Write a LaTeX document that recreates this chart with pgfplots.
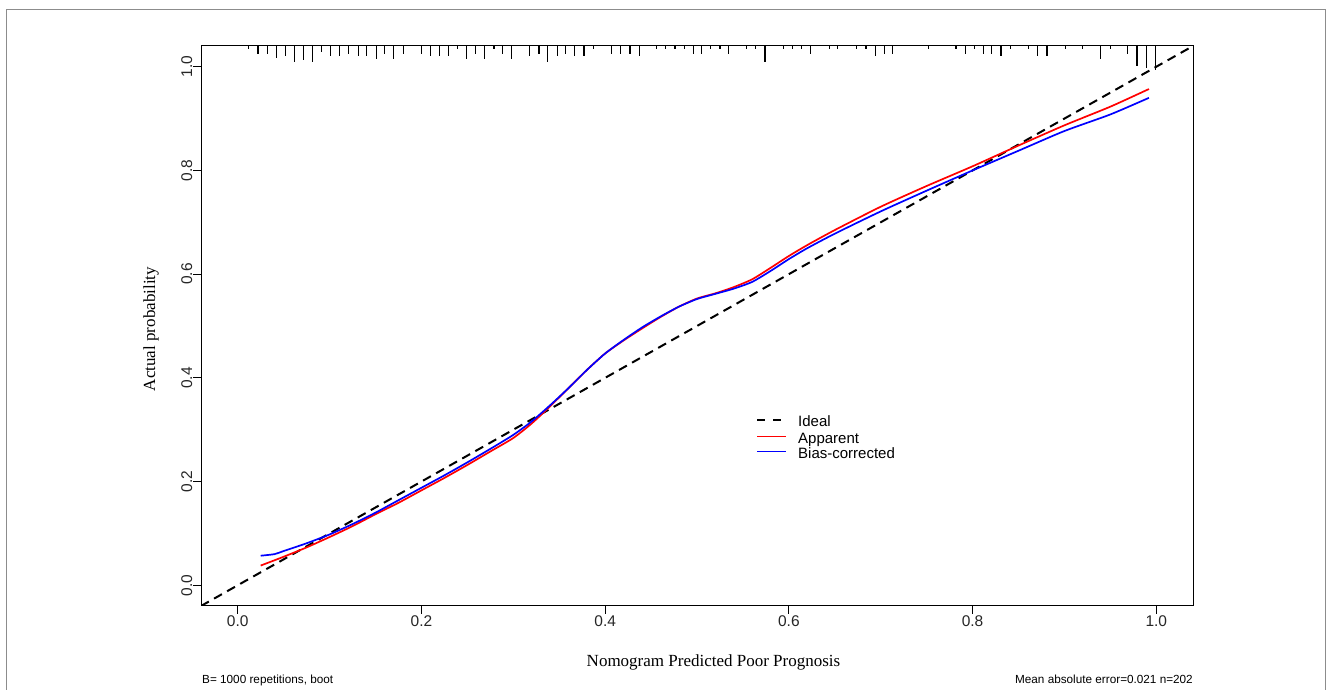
\documentclass[border=0pt]{standalone}
\usepackage{pgfplots}
\pgfplotsset{compat=1.18}
\usepackage{fontspec}
\setmainfont{Liberation Sans}
\newfontfamily\serifit{Liberation Serif}

\pgfplotstableread{
x y dy
0.012 1.04 0.005
0.022 1.04 0.015
0.032 1.04 0.015
0.042 1.04 0.024
0.052 1.04 0.019
0.062 1.04 0.031
0.072 1.04 0.027
0.081 1.04 0.031
0.091 1.04 0.012
0.101 1.04 0.019
0.111 1.04 0.019
0.121 1.04 0.015
0.131 1.04 0.019
0.140 1.04 0.019
0.151 1.04 0.025
0.160 1.04 0.015
0.170 1.04 0.025
0.180 1.04 0.015
0.200 1.04 0.015
0.210 1.04 0.019
0.220 1.04 0.019
0.229 1.04 0.019
0.2395 1.04 0.005
0.249 1.04 0.025
0.259 1.04 0.015
0.269 1.04 0.025
0.279 1.04 0.005
0.288 1.04 0.015
0.298 1.04 0.025
0.318 1.04 0.019
0.328 1.04 0.015
0.337 1.04 0.031
0.348 1.04 0.019
0.357 1.04 0.015
0.367 1.04 0.019
0.377 1.04 0.019
0.387 1.04 0.005
0.407 1.04 0.015
0.417 1.04 0.015
0.427 1.04 0.015
0.437 1.04 0.019
0.456 1.04 0.005
0.466 1.04 0.005
0.476 1.04 0.005
0.486 1.04 0.005
0.496 1.04 0.015
0.505 1.04 0.015
0.515 1.04 0.005
0.525 1.04 0.005
0.534 1.04 0.015
0.554 1.04 0.005
0.564 1.04 0.005
0.574 1.04 0.031
0.594 1.04 0.005
0.604 1.04 0.005
0.614 1.04 0.005
0.624 1.04 0.015
0.644 1.04 0.005
0.653 1.04 0.005
0.674 1.04 0.005
0.684 1.04 0.005
0.694 1.04 0.019
0.704 1.04 0.015
0.713 1.04 0.015
0.752 1.04 0.005
0.782 1.04 0.005
0.792 1.04 0.015
0.802 1.04 0.005
0.812 1.04 0.015
0.821 1.04 0.015
0.831 1.04 0.019
0.841 1.04 0.005
0.861 1.04 0.005
0.871 1.04 0.019
0.881 1.04 0.019
0.901 1.04 0.005
0.920 1.04 0.005
0.939 1.04 0.025
0.950 1.04 0.005
0.969 1.04 0.015
0.979 1.04 0.039
0.989 1.04 0.042
0.999 1.04 0.046
}\rugtable

\pgfplotstableread{
x y
0.025 0.038
0.05 0.055
0.075 0.073
0.10 0.093
0.125 0.114
0.15 0.137
0.175 0.159
0.20 0.183
0.225 0.207
0.25 0.232
0.275 0.258
0.30 0.284
0.32 0.312
0.34 0.345
0.36 0.380
0.38 0.415
0.40 0.447
0.42 0.472
0.44 0.495
0.46 0.517
0.48 0.537
0.50 0.553
0.52 0.563
0.54 0.575
0.56 0.590
0.58 0.612
0.60 0.635
0.62 0.656
0.65 0.685
0.70 0.730
0.75 0.770
0.80 0.808
0.85 0.848
0.90 0.887
0.95 0.923
0.992 0.957
}\apparent

\pgfplotstableread{
x y
0.025 0.057
0.04 0.060
0.05 0.066
0.075 0.081
0.10 0.098
0.125 0.118
0.15 0.140
0.175 0.164
0.20 0.188
0.225 0.212
0.25 0.237
0.275 0.263
0.30 0.290
0.32 0.316
0.34 0.347
0.36 0.380
0.38 0.415
0.40 0.447
0.42 0.473
0.44 0.497
0.46 0.518
0.48 0.537
0.50 0.552
0.52 0.562
0.54 0.572
0.56 0.585
0.58 0.606
0.60 0.629
0.62 0.650
0.65 0.678
0.70 0.721
0.75 0.761
0.80 0.800
0.85 0.838
0.90 0.876
0.95 0.908
0.992 0.940
}\biascorr

\begin{document}
\begin{tikzpicture}[x=1pt,y=1pt]
\path[use as bounding box] (0,0) rectangle (1330,690);
\draw[black!45, line width=1pt] (6.5,0) -- (6.5,680.5) -- (1325,680.5) -- (1325,0);
\begin{axis}[
  at={(201pt,84pt)}, anchor=south west,
  scale only axis, width=992pt, height=560pt,
  xmin=-0.04, xmax=1.04, ymin=-0.04, ymax=1.04,
  xtick={0,0.2,0.4,0.6,0.8,1},
  ytick={0,0.2,0.4,0.6,0.8,1},
  tick pos=left, tick align=outside,
  major tick length=8pt,
  tick style={black, line width=0.8pt},
  axis line style={black, line width=1pt},
  /pgf/number format/fixed,
  /pgf/number format/fixed zerofill,
  /pgf/number format/precision=1,
  /pgf/number format/assume math mode=true,
  xticklabel style={font=\fontsize{15.5}{18}\selectfont, inner sep=1pt, text=black!85},
  yticklabel style={font=\fontsize{15.5}{18}\selectfont, rotate=90, anchor=south, inner sep=0.5pt, text=black!85},
  clip=true,
]
\addplot[black, line width=2pt, dash pattern=on 9pt off 6pt]
  coordinates {(-0.04,-0.04) (1.04,1.04)};
\addplot[red, line width=1.7pt, smooth, tension=0.4] table[x=x, y=y] {\apparent};
\addplot[blue, line width=1.7pt, smooth, tension=0.4] table[x=x, y=y] {\biascorr};
\addplot[black, line width=1.1pt, quiver={u=0, v=-\thisrow{dy}}, mark=none] table[x=x, y=y] {\rugtable};
\end{axis}
% legend
\draw[black, line width=1.8pt, dash pattern=on 8pt off 8pt] (757,270) -- (783,270);
\draw[red, line width=1.2pt] (757,253.3) -- (786,253.3);
\draw[blue, line width=1.2pt] (757,238.3) -- (786,238.3);
\begin{scope}[every node/.style={anchor=west, inner sep=0pt, text height=10.7pt, text depth=0pt, font=\fontsize{15}{16}\selectfont}]
\node at (798,268.5) {Ideal};
\node at (798,251.8) {Apparent};
\node at (798,236.8) {Bias-corrected};
\end{scope}
\node[font=\serifit\fontsize{17}{20}\selectfont, anchor=base] at (713.5,23) {Nomogram Predicted Poor Prognosis};
\node[font=\serifit\fontsize{17}{20}\selectfont, rotate=90, anchor=base] at (155,361) {Actual probability};
\node[font=\fontsize{11.75}{14}\selectfont, anchor=base west, inner sep=0pt] at (202,6) {B= 1000 repetitions, boot};
\node[font=\fontsize{11.75}{14}\selectfont, anchor=base east, inner sep=0pt] at (1193,6) {Mean absolute error=0.021 n=202};
\end{tikzpicture}
\end{document}
